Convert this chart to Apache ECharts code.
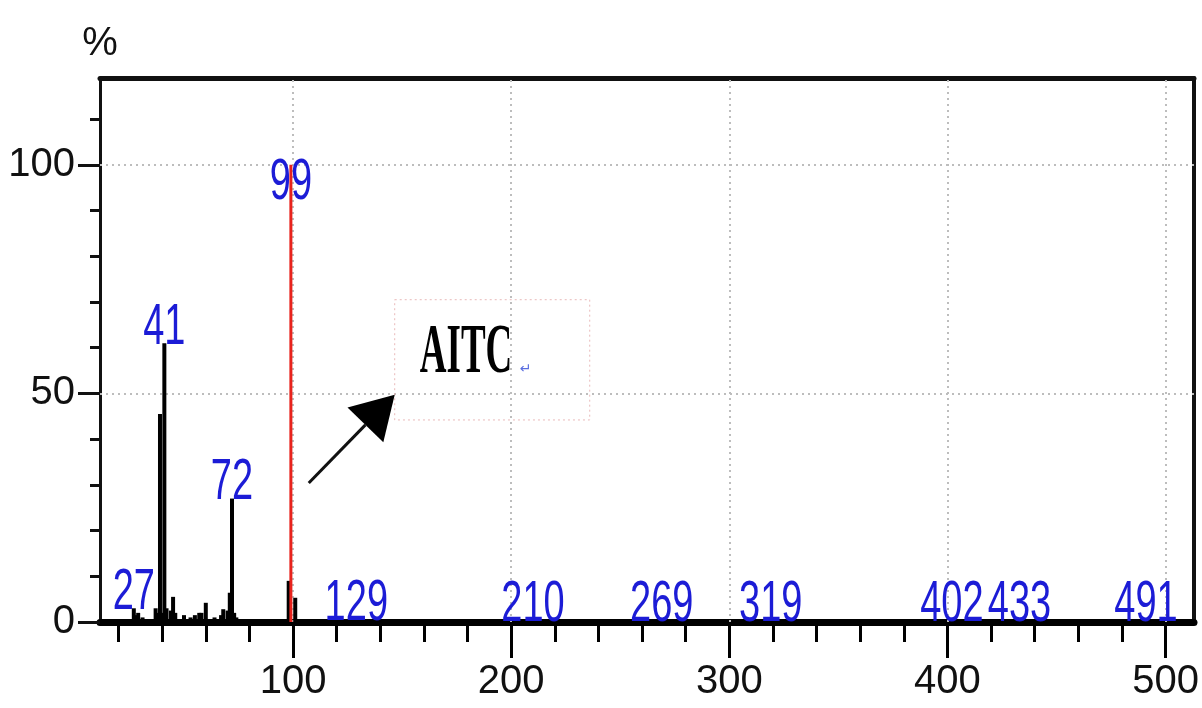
<!DOCTYPE html>
<html><head><meta charset="utf-8">
<script src="https://cdn.jsdelivr.net/npm/echarts@6/dist/echarts.min.js"></script>
<style>html,body{margin:0;padding:0;background:#fff}#c{width:1202px;height:708px}</style>
</head><body><div id="c"></div>
<script>
// ---- data ----
const peakMz  = [27, 28, 29, 31, 37, 38, 39, 40, 41, 42, 44, 45, 46, 50, 53, 55, 57, 58, 60, 64, 67, 68, 70, 71, 72, 73, 74, 98, 101, 129, 210, 269, 319, 402, 433, 491];
const peakInt = [3, 1.5, 2, 1, 3, 2, 45.5, 2, 61, 3, 2.5, 5.5, 2, 1.5, 1, 1.5, 2, 2, 4.2, 1, 1.5, 2.8, 2.5, 6.4, 27, 2, 1, 9, 5.3, 0.5, 0.4, 0.3, 0.3, 0.3, 0.3, 0.3];
const basePeakMz  = [99];
const basePeakInt = [100];
const labelledMz = [27, 41, 72, 99, 129, 210, 269, 319, 402, 433, 491];
const xMajorTicks = [100, 200, 300, 400, 500];
const xMinorTicks = [20, 40, 60, 80, 120, 140, 160, 180, 220, 240, 260, 280, 320, 340, 360, 380, 420, 440, 460, 480];
const yMajorTicks = [0, 50, 100];
const yMinorTicks = [10, 20, 30, 40, 60, 70, 80, 90, 110];
const gridLinesX = [100, 200, 300, 400, 500];
const gridLinesY = [50, 100];
const yUnit = '%';
const annotationText = 'AITC';
const xRange = [11.5, 513];
const yRange = [0, 119];

const SANS = '"Liberation Sans", Arial, sans-serif';
const FS = 40;          // axis labels
const LFS = 38;         // peak labels
const LSCALE = 1.5;     // vertical stretch of peak labels (reference text is tall)
const BLUE = '#1c1cd6';

const peaks = peakMz.map((m, i) => [m, peakInt[i]]);
const basePeaks = basePeakMz.map((m, i) => [m, basePeakInt[i]]);
function intensityOf(m) {
  let i = basePeakMz.indexOf(m);
  if (i >= 0) return basePeakInt[i];
  i = peakMz.indexOf(m);
  return i >= 0 ? peakInt[i] : 0;
}
const labelData = labelledMz.map(m => [m, intensityOf(m), m === basePeakMz[0] ? 1 : 0]);

function stickItem(color, width) {
  return function (params, api) {
    const p0 = api.coord([api.value(0), 0]);
    const p1 = api.coord([api.value(0), api.value(1)]);
    return { type: 'line', shape: { x1: p0[0], y1: p0[1], x2: p1[0], y2: p1[1] },
      style: { stroke: color, lineWidth: width } };
  };
}

const chart = echarts.init(document.getElementById('c'), null, { renderer: 'canvas' });
const axisBase = { min: xRange[0], max: xRange[1], type: 'value' };
const yBase = { min: yRange[0], max: yRange[1], type: 'value' };
const none = { show: false };
chart.setOption({
  animation: false,
  backgroundColor: '#fff',
  grid: { left: 100, right: 7, top: 78, bottom: 86, containLabel: false },
  xAxis: [
    Object.assign({}, axisBase, { position: 'bottom',
      axisLine: { show: true, onZero: false, lineStyle: { color: '#000', width: 7 } },
      axisTick: { show: true, customValues: xMinorTicks, length: 20, lineStyle: { color: '#000', width: 3 } },
      axisLabel: none, splitLine: none }),
    Object.assign({}, axisBase, { position: 'bottom',
      axisLine: { show: false, onZero: false },
      axisTick: { show: true, customValues: xMajorTicks, length: 36, lineStyle: { color: '#000', width: 3 } },
      axisLabel: { show: true, customValues: xMajorTicks, margin: 40, color: '#111', fontFamily: SANS, fontSize: FS },
      splitLine: none }),
    Object.assign({}, axisBase, { position: 'top',
      axisLine: { show: true, onZero: false, lineStyle: { color: '#111', width: 5 } },
      axisTick: none, axisLabel: none, splitLine: none })
  ],
  yAxis: [
    Object.assign({}, yBase, { position: 'left',
      name: yUnit, nameLocation: 'end', nameGap: 14,
      nameTextStyle: { color: '#111', fontFamily: SANS, fontSize: FS, align: 'center' },
      axisLine: { show: true, onZero: false, lineStyle: { color: '#111', width: 3 } },
      axisTick: { show: true, customValues: yMinorTicks, length: 10, lineStyle: { color: '#111', width: 3 } },
      axisLabel: none, splitLine: none }),
    Object.assign({}, yBase, { position: 'left',
      axisLine: { show: false, onZero: false },
      axisTick: { show: true, customValues: yMajorTicks, length: 22, lineStyle: { color: '#111', width: 3 } },
      axisLabel: { show: true, customValues: yMajorTicks, margin: 25, color: '#111', fontFamily: SANS, fontSize: FS },
      splitLine: none }),
    Object.assign({}, yBase, { position: 'right',
      axisLine: { show: true, onZero: false, lineStyle: { color: '#111', width: 4 } },
      axisTick: none, axisLabel: none, splitLine: none })
  ],
  series: [
    {
      type: 'custom', name: 'peaks', xAxisIndex: 0, yAxisIndex: 0, z: 2,
      renderItem: stickItem('#000', 4), data: peaks, silent: true,
      markLine: {
        silent: true, symbol: 'none', label: { show: false }, z: 1,
        lineStyle: { color: '#bdbdbd', type: [2, 4], width: 2 },
        data: gridLinesX.map(v => ({ xAxis: v })).concat(gridLinesY.map(v => ({ yAxis: v })))
      }
    },
    {
      type: 'custom', name: 'base', xAxisIndex: 0, yAxisIndex: 0, z: 3,
      renderItem: stickItem('#e8231c', 3), data: basePeaks, silent: true
    },
    {
      type: 'custom', name: 'labels', xAxisIndex: 0, yAxisIndex: 0, z: 4, silent: true,
      data: labelData,
      renderItem: function (params, api) {
        const p = api.coord([api.value(0), api.value(1)]);
        const isBase = api.value(2) === 1;
        const y = isBase ? p[1] + 18.5 : p[1] + 2 + 0.2 * LFS * LSCALE;
        return { type: 'text', x: p[0], y: y, scaleY: LSCALE,
          style: { text: String(api.value(0)), fill: BLUE, fontFamily: SANS, fontSize: LFS,
            align: 'center', verticalAlign: isBase ? 'middle' : 'bottom' } };
      }
    }
  ]
});

// ---- annotation (positions in data space) ----
const box = [[146.6, 70.5], [236, 44.2]];
const arrowFrom = [107.2, 30.4];
const arrowTip = [146.6, 49.7];
const textAt = [158.1, 58.75];
function px(d) { return chart.convertToPixel({ xAxisIndex: 0, yAxisIndex: 0 }, d); }
const b0 = px(box[0]), b1 = px(box[1]);
const s = px(arrowFrom), t = px(arrowTip);
const dx = t[0] - s[0], dy = t[1] - s[1], L = Math.hypot(dx, dy);
const ux = dx / L, uy = dy / L;
const headLen = 42, headHalf = 25;
const bm = [t[0] - ux * headLen, t[1] - uy * headLen];
const tp = px(textAt);
chart.setOption({
  graphic: [
    { type: 'rect', shape: { x: b0[0], y: b0[1], width: b1[0] - b0[0], height: b1[1] - b0[1] },
      style: { fill: 'none', stroke: '#e9b9b9', lineWidth: 1, lineDash: [2, 3] }, z: 10, silent: true },
    { type: 'line', shape: { x1: s[0], y1: s[1], x2: bm[0], y2: bm[1] },
      style: { stroke: '#111', lineWidth: 3 }, z: 10, silent: true },
    { type: 'polygon', shape: { points: [t, [bm[0] - uy * headHalf, bm[1] + ux * headHalf], [bm[0] + uy * headHalf, bm[1] - ux * headHalf]] },
      style: { fill: '#000' }, z: 10, silent: true },
    { type: 'text', x: tp[0], y: tp[1], scaleY: 1.9, z: 11, silent: true,
      style: { text: annotationText, fill: '#000', font: 'bold 37px "Liberation Serif", "Times New Roman", serif',
        align: 'left', verticalAlign: 'middle' } },
    { type: 'text', x: tp[0] + 100, y: tp[1] + 16, z: 11, silent: true,
      style: { text: '\u21B5', fill: '#5a6ee0', font: '14px "DejaVu Sans"', align: 'left', verticalAlign: 'middle' } }
  ]
});
</script>
</body></html>
